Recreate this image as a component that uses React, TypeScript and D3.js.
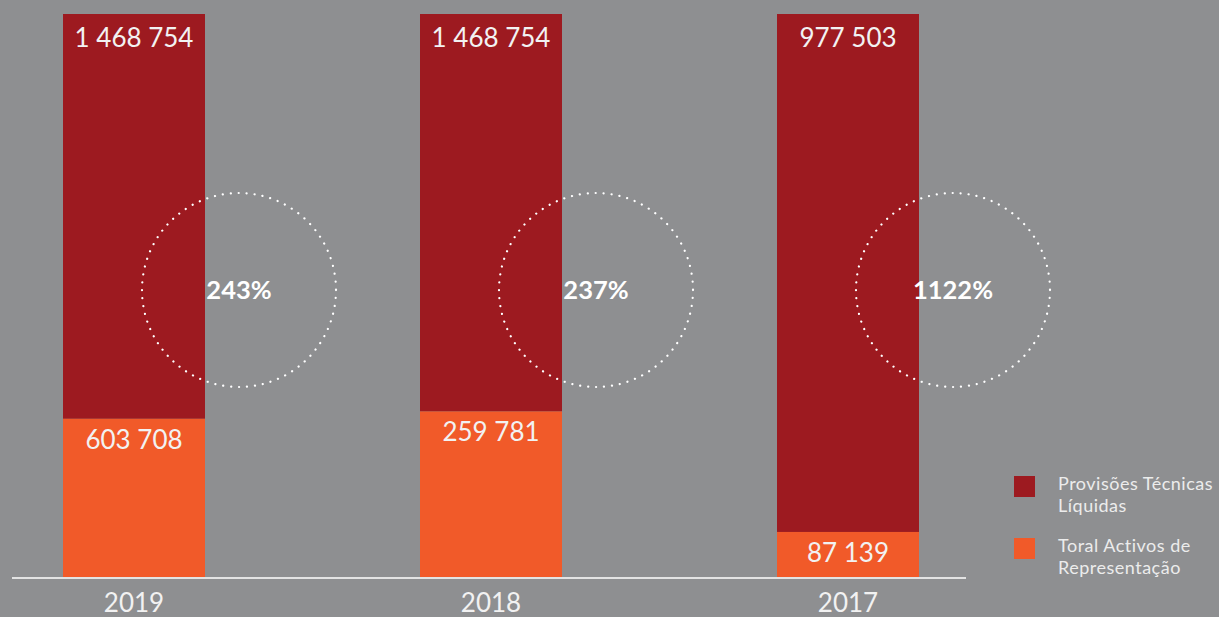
import React from "react";
import * as d3 from "d3";

const years = ["2019", "2018", "2017"];
const provisoesLabels = ["1 468 754", "1 468 754", "977 503"];
const activosLabels = ["603 708", "259 781", "87 139"];
const ratioLabels = ["243%", "237%", "1122%"];
// visual share of the orange segment in each full-height bar
const activosShare = [0.281, 0.294, 0.08];
const legendItems = [
  { lines: ["Provisões Técnicas", "Líquidas"], color: "#9d1a20" },
  { lines: ["Toral Activos de", "Representação"], color: "#f15a29" },
];

const W = 1219;
const H = 617;
const BG = "#8e8f91";
const RED = "#9d1a20";
const ORANGE = "#f15a29";
const TEXT = "#f2f2f2";
const FONT = "Lato, 'Open Sans', sans-serif";

export default function App() {
  const x = d3.scalePoint<string>().domain(years).range([134, 848]);
  const y = d3.scaleLinear().domain([0, 1]).range([577, 14]);
  const bw = 142;
  const circleR = 97;
  const circleY = 290;

  return (
    <svg
      width={W}
      height={H}
      style={{ position: "absolute", left: 0, top: 0, background: BG, fontFamily: FONT }}
    >
      <rect x={0} y={0} width={W} height={H} fill={BG} />
      {years.map((yr, i) => {
        const cx = x(yr) as number;
        const x0 = cx - bw / 2;
        const oTop = y(activosShare[i]);
        return (
          <g key={yr}>
            <rect x={x0} y={y(1)} width={bw} height={oTop - y(1)} fill={RED} />
            <rect x={x0} y={oTop} width={bw} height={y(0) - oTop} fill={ORANGE} />
            <text x={cx} y={y(1) + 33} textAnchor="middle" fill={TEXT} fontSize={26} fontWeight={400}>
              {provisoesLabels[i]}
            </text>
            <text x={cx} y={oTop + 30} textAnchor="middle" fill={TEXT} fontSize={26} fontWeight={400}>
              {activosLabels[i]}
            </text>
            <circle
              cx={cx + 105}
              cy={circleY}
              r={circleR}
              fill="none"
              stroke="#ffffff"
              strokeWidth={2.2}
              strokeDasharray="0.1 7.9"
              strokeLinecap="round"
            />
            <text x={cx + 105} y={circleY + 9} textAnchor="middle" fill="#ffffff" fontSize={25.5} fontWeight={700}>
              {ratioLabels[i]}
            </text>
            <text x={cx} y={612} textAnchor="middle" fill={TEXT} fontSize={26} fontWeight={400}>
              {yr}
            </text>
          </g>
        );
      })}
      <line x1={12} x2={966} y1={578} y2={578} stroke="#ffffff" strokeWidth={1.5} />
      {legendItems.map((item, i) => (
        <g key={i} transform={`translate(1014, ${476 + i * 62})`}>
          <rect x={0} y={0} width={21} height={21} fill={item.color} />
          {item.lines.map((ln, j) => (
            <text key={j} x={44} y={14 + j * 22} fill="#ececec" fontSize={18} fontWeight={400} letterSpacing={0.5}>
              {ln}
            </text>
          ))}
        </g>
      ))}
    </svg>
  );
}
